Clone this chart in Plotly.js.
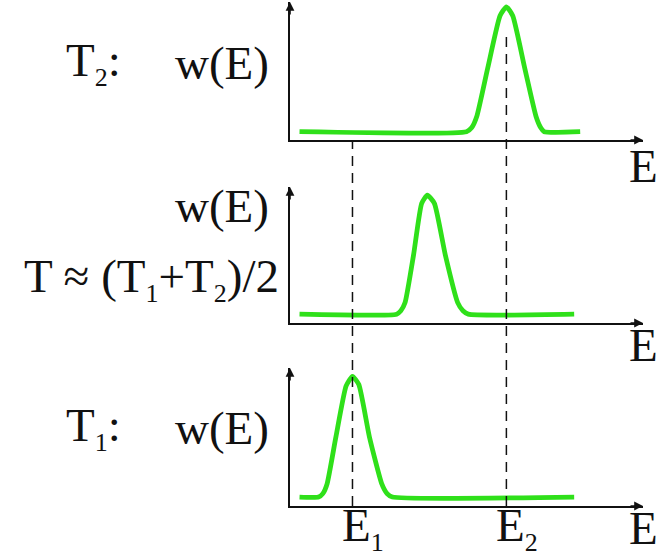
<!DOCTYPE html>
<html>
<head>
<meta charset="utf-8">
<script src="https://cdn.plot.ly/plotly-3.0.1.min.js"></script>
<style>html,body{margin:0;padding:0;background:#fff;}#chart{width:661px;height:556px;}</style>
</head>
<body>
<div id="chart"></div>
<script>
// ---- data (energy E in arbitrary units, w(E) as fraction of panel height) ----
const E1 = 1.77;
const E2 = 6.13;
const markerEnergies = [E1, E2];
const markerLabels = ['E<sub><span style="font-size:26px">1</span></sub>', 'E<sub><span style="font-size:26px">2</span></sub>'];

// T2 (top panel)
const eT2 = [0.27, 5.0, 5.15, 5.29, 5.6, 5.95, 6.13, 6.31, 6.65, 6.97, 7.1, 7.2, 8.22];
const wT2 = [0.06, 0.06, 0.09, 0.17, 0.52, 0.90, 0.965, 0.90, 0.52, 0.17, 0.09, 0.06, 0.06];
// T ~ (T1+T2)/2 (middle panel)
const eTm = [0.27, 3.02, 3.14, 3.26, 3.5, 3.73, 3.89, 4.09, 4.4, 4.75, 4.9, 5.05, 8.05];
const wTm = [0.065, 0.065, 0.09, 0.15, 0.5, 0.88, 0.94, 0.88, 0.5, 0.15, 0.09, 0.065, 0.065];
// T1 (bottom panel)
const eT1 = [0.27, 0.81, 0.93, 1.05, 1.3, 1.59, 1.77, 1.95, 2.25, 2.6, 2.75, 2.9, 8.05];
const wT1 = [0.065, 0.065, 0.09, 0.16, 0.5, 0.87, 0.94, 0.88, 0.5, 0.16, 0.09, 0.065, 0.065];

const panelLabelsLeft = ['T<sub><span style="font-size:26px">2</span></sub>:', '', 'T<sub><span style="font-size:26px">1</span></sub>:'];
const yLabel = 'w(E)';
const midLabel = 'T ≈ (T<sub><span style="font-size:26px">1</span></sub>+T<sub><span style="font-size:26px">2</span></sub>)/2';
const xLabel = 'E';

// ---- layout helpers ----
const W = 661, H = 556;
const px = v => v / W;
const py = v => 1 - v / H;
const xDom = [px(290), px(643)];
const domTop = [py(140), py(2)];
const domMid = [py(323), py(187)];
const domBot = [py(506), py(368)];
const FONT = 'Liberation Serif, Times New Roman, serif';
const green = '#2fe01a';

function trace(x, y, xa, ya) {
  return {x: x, y: y, xaxis: xa, yaxis: ya, type: 'scatter', mode: 'lines',
    line: {color: green, width: 4.8, shape: 'spline', smoothing: 0.5},
    hoverinfo: 'skip', showlegend: false};
}
const data = [
  trace(eT2, wT2, 'x', 'y'),
  trace(eTm, wTm, 'x2', 'y2'),
  trace(eT1, wT1, 'x3', 'y3')
];

function xax(anchor) {
  return {domain: xDom, range: [0, 10], anchor: anchor, showline: true, linecolor: '#111', linewidth: 1.6,
    showgrid: false, zeroline: false, showticklabels: false, ticks: '', fixedrange: true};
}
function yax(dom, anchor) {
  return {domain: dom, range: [0, 1], anchor: anchor, showline: true, linecolor: '#111', linewidth: 1.6,
    showgrid: false, zeroline: false, showticklabels: false, ticks: '', fixedrange: true};
}

const annotations = [];
const axPairs = [['x', 'y'], ['x2', 'y2'], ['x3', 'y3']];
axPairs.forEach(([xa, ya]) => {
  annotations.push({xref: xa + ' domain', yref: ya + ' domain', x: 1, y: 0, ax: -14, ay: 0,
    text: '', showarrow: true, arrowhead: 2, arrowsize: 1.1, arrowwidth: 1.6, arrowcolor: '#111'});
  annotations.push({xref: xa + ' domain', yref: ya + ' domain', x: 0, y: 1, ax: 0, ay: 14,
    text: '', showarrow: true, arrowhead: 2, arrowsize: 1.1, arrowwidth: 1.6, arrowcolor: '#111'});
});
const tf = {family: FONT, size: 47, color: '#111'};
function txt(text, x, y, xanchor, extra) {
  return Object.assign({xref: 'paper', yref: 'paper', x: x, y: y, text: text, showarrow: false,
    xanchor: xanchor, yanchor: 'middle', font: tf}, extra || {});
}
// E labels at axis ends
[166, 345, 528].forEach(v => annotations.push(txt(xLabel, px(643), py(v), 'center')));
// left labels
annotations.push(txt(panelLabelsLeft[0], px(64), py(63), 'left'));
annotations.push(txt(yLabel, px(271), py(63), 'right'));
annotations.push(txt(yLabel, px(271), py(206), 'right'));
annotations.push(txt(midLabel, px(281), py(279), 'right'));
annotations.push(txt(panelLabelsLeft[2], px(64), py(428), 'left'));
annotations.push(txt(yLabel, px(271), py(428), 'right'));
// E1, E2 under bottom axis
markerEnergies.forEach((e, i) => annotations.push({xref: 'x3', yref: 'paper', x: e, y: py(528),
  text: markerLabels[i], showarrow: false, xanchor: 'left', xshift: -12, yanchor: 'middle', font: tf}));

// dashed guide lines
const dash = {color: '#111', width: 1.5, dash: '10px,7px'};
const shapes = [
  {type: 'line', xref: 'x3', yref: 'paper', x0: E1, x1: E1, y0: domBot[0], y1: domTop[0], line: dash},
  {type: 'line', xref: 'x3', yref: 'paper', x0: E2, x1: E2, y0: domBot[0], y1: domTop[0] + 0.78 * (domTop[1] - domTop[0]), line: dash}
];

const layout = {
  width: W, height: H, margin: {l: 0, r: 0, t: 0, b: 0},
  paper_bgcolor: '#fff', plot_bgcolor: 'rgba(0,0,0,0)',
  showlegend: false,
  xaxis: xax('y'), yaxis: yax(domTop, 'x'),
  xaxis2: xax('y2'), yaxis2: yax(domMid, 'x2'),
  xaxis3: xax('y3'), yaxis3: yax(domBot, 'x3'),
  annotations: annotations, shapes: shapes
};
Plotly.newPlot('chart', data, layout, {displayModeBar: false, staticPlot: true});
</script>
</body>
</html>
